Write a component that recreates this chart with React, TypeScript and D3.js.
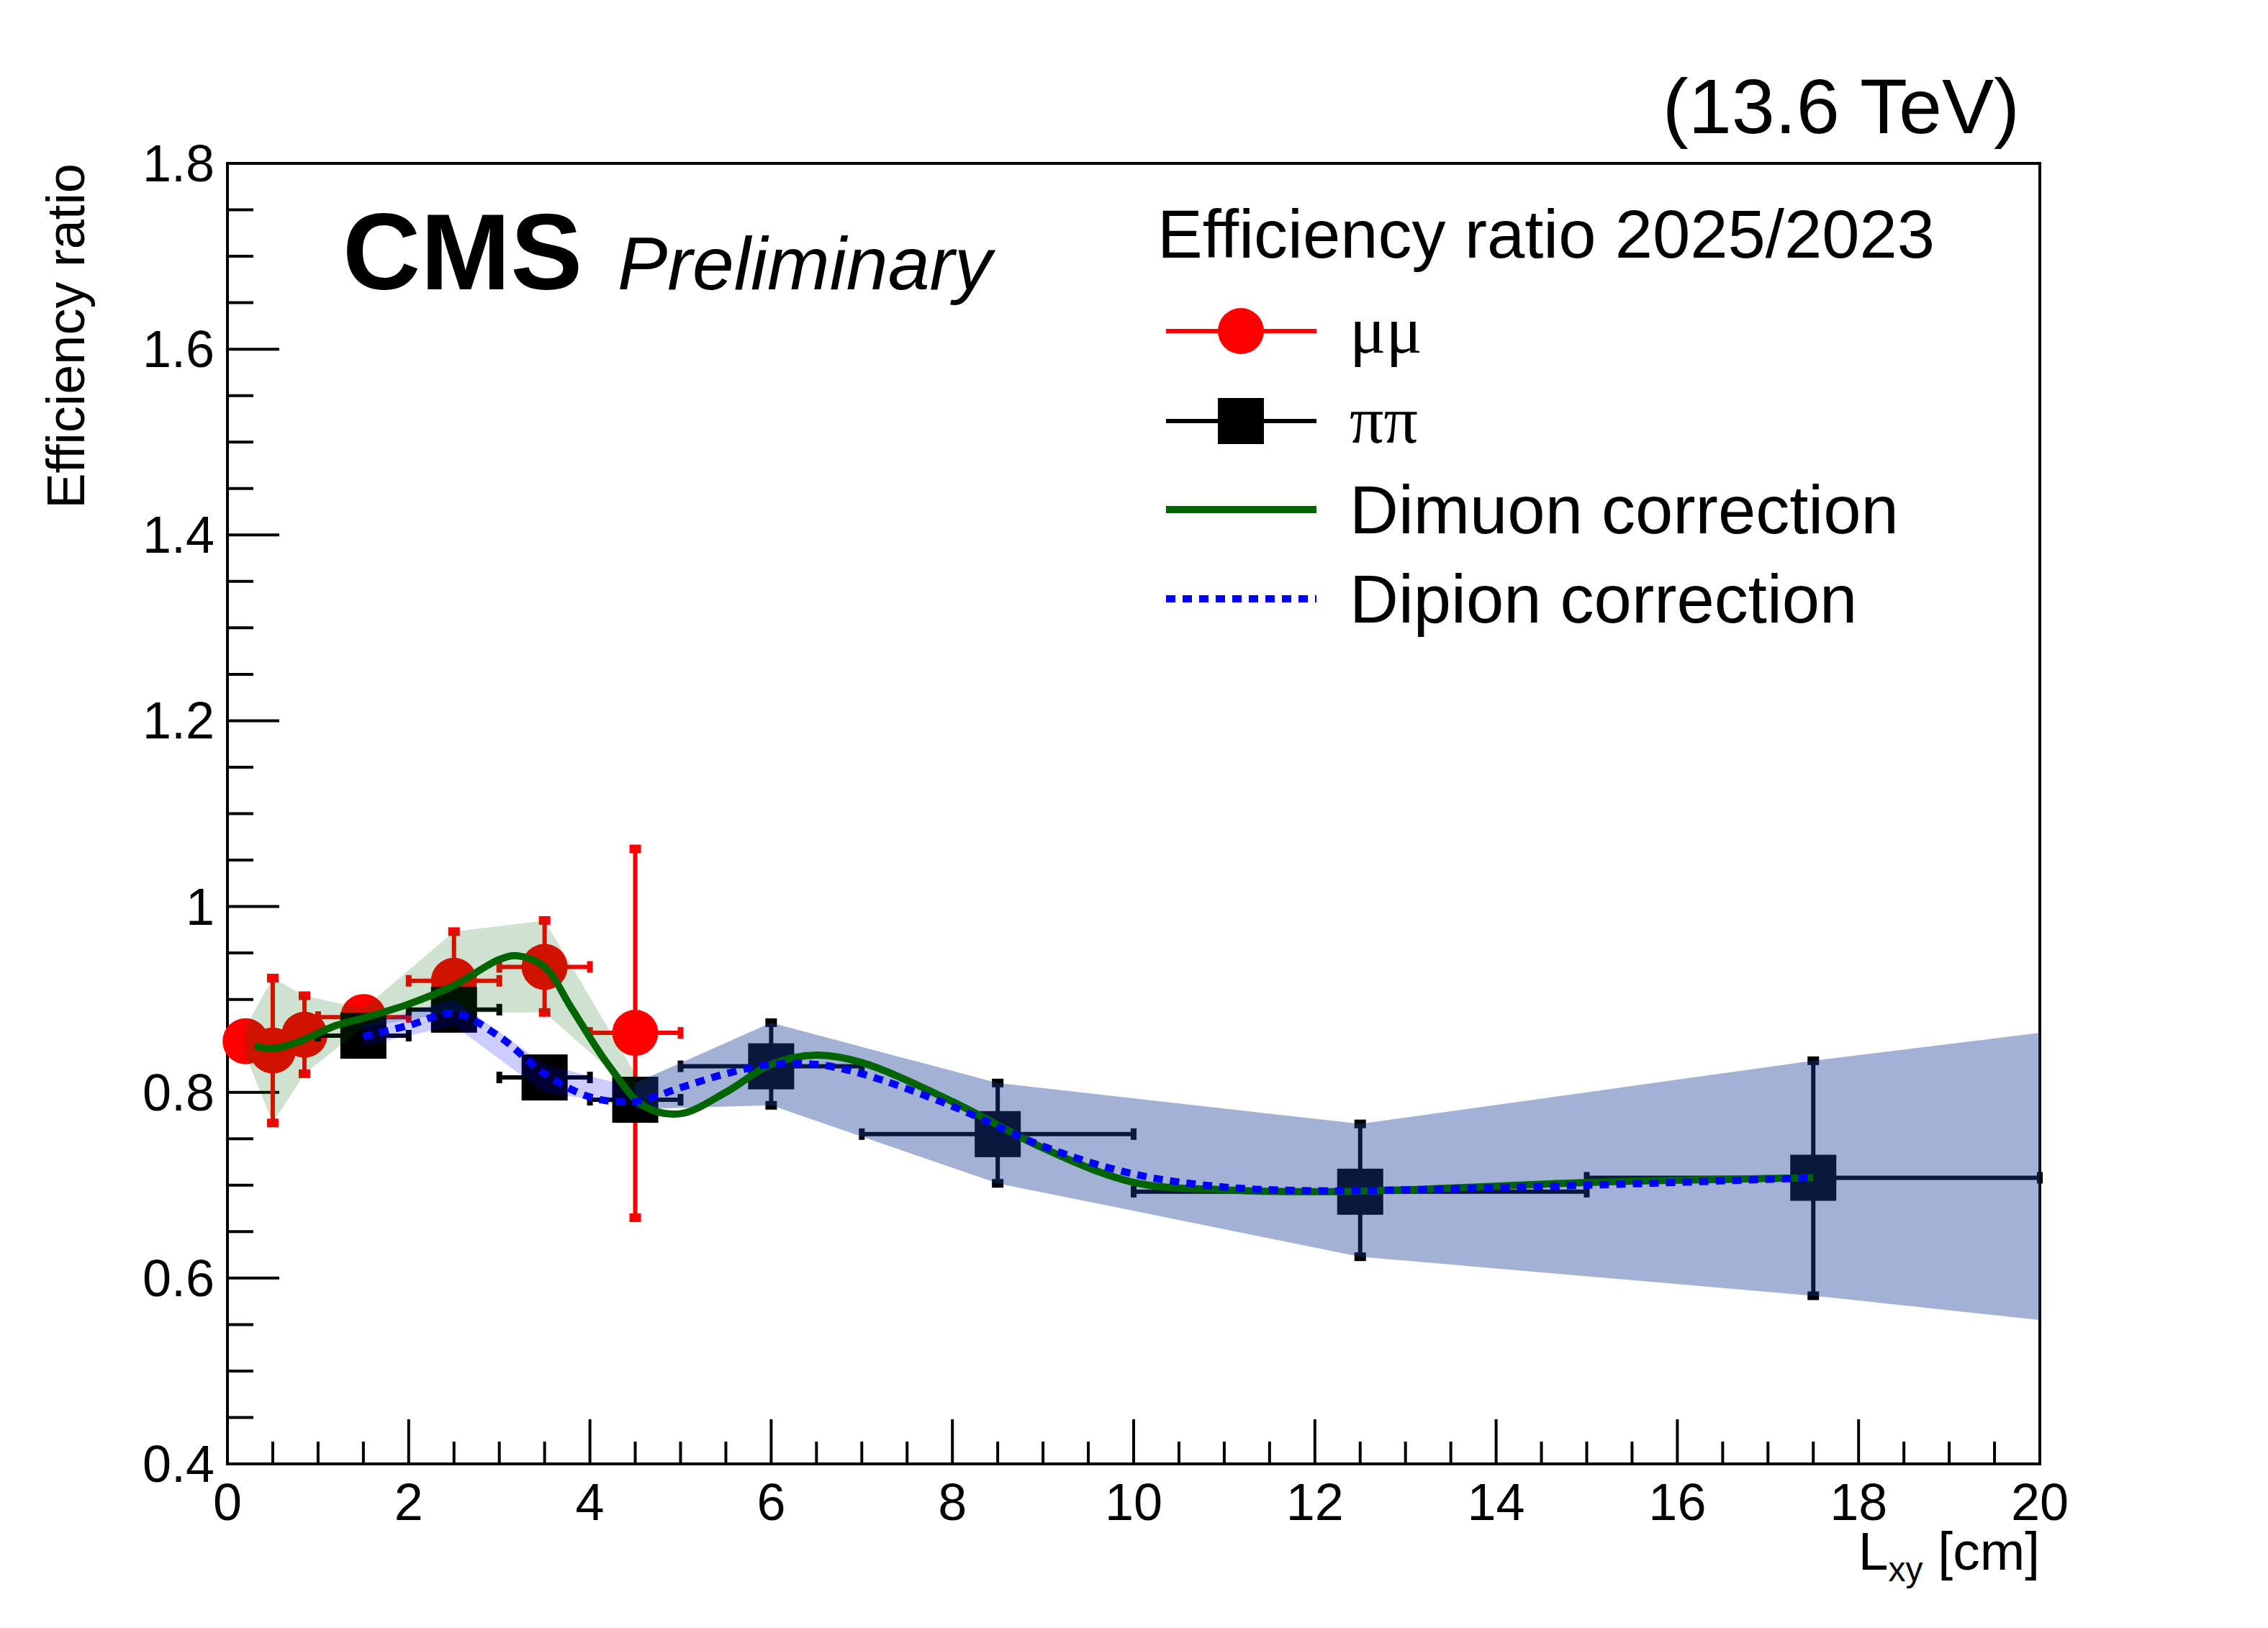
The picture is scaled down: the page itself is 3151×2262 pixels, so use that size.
import * as d3 from "d3";

// μμ data points
const muX = [0.2, 0.5, 0.85, 1.5, 2.5, 3.5, 4.5];
const muY = [0.855, 0.845, 0.862, 0.881, 0.92, 0.935, 0.864];
const muYLo = [0.855, 0.767, 0.82, 0.875, 0.886, 0.886, 0.665];
const muYHi = [0.855, 0.923, 0.904, 0.887, 0.973, 0.985, 1.062];
const muXLo = [0.2, 0.5, 0.85, 1, 2, 3, 4];
const muXHi = [0.2, 0.5, 0.85, 2, 3, 4, 5];

// ππ data points
const piX = [1.5, 2.5, 3.5, 4.5, 6, 8.5, 12.5, 17.5];
const piY = [0.861, 0.889, 0.816, 0.792, 0.828, 0.755, 0.693, 0.708];
const piYLo = [0.856, 0.884, 0.811, 0.787, 0.786, 0.702, 0.623, 0.581];
const piYHi = [0.866, 0.894, 0.821, 0.797, 0.875, 0.81, 0.766, 0.834];
const piXLo = [1, 2, 3, 4, 5, 7, 10, 15];
const piXHi = [2, 3, 4, 5, 7, 10, 15, 20];

// uncertainty bands
const greenBandX = [0.2, 0.5, 0.85, 1.5, 2.5, 3.5, 4.5];
const greenBandHi = [0.87, 0.923, 0.904, 0.89, 0.973, 0.985, 0.82];
const greenBandLo = [0.84, 0.767, 0.82, 0.87, 0.886, 0.886, 0.8];
const lavBandX = [1.5, 2.5, 3.5, 4.5];
const lavBandHi = [0.872, 0.9, 0.83, 0.805];
const lavBandLo = [0.85, 0.872, 0.8, 0.785];
const steelBandX = [4.5, 6, 8.5, 12.5, 17.5, 20];
const steelBandHi = [0.81, 0.875, 0.81, 0.766, 0.834, 0.864];
const steelBandLo = [0.782, 0.786, 0.702, 0.623, 0.581, 0.555];

// correction curves
const dimuonX = [0.3, 0.5, 0.8, 1.2, 1.5, 2, 2.5, 3, 3.2, 3.5, 3.8, 4.2, 4.6, 5, 5.5, 6, 6.5, 7, 8, 9, 10, 11, 12, 13, 15, 17.5];
const dimuonY = [0.85, 0.847, 0.855, 0.872, 0.88, 0.895, 0.915, 0.943, 0.947, 0.935, 0.89, 0.83, 0.785, 0.777, 0.8, 0.83, 0.84, 0.832, 0.79, 0.74, 0.703, 0.695, 0.693, 0.695, 0.703, 0.708];
const dipionX = [1.5, 2, 2.5, 3, 3.5, 4, 4.5, 5, 5.5, 6, 6.5, 7, 8, 9, 10, 11, 12, 13, 15, 17.5];
const dipionY = [0.86, 0.872, 0.885, 0.86, 0.82, 0.795, 0.79, 0.805, 0.82, 0.83, 0.83, 0.82, 0.785, 0.742, 0.712, 0.698, 0.694, 0.695, 0.7, 0.708];

const xTicks = [0, 2, 4, 6, 8, 10, 12, 14, 16, 18, 20];
const yTicks = [0.4, 0.6, 0.8, 1, 1.2, 1.4, 1.6, 1.8];

const W = 3151, H = 2262;
const L = 316, R = 2834, T = 227, B = 2034;
const font = "'Liberation Sans', Arial, sans-serif";

export default function App() {
  const x = d3.scaleLinear().domain([0, 20]).range([L, R]);
  const y = d3.scaleLinear().domain([0.4, 1.8]).range([B, T]);

  const band = (xs: number[], hi: number[], lo: number[]) =>
    d3.area<number>().x((_, i) => x(xs[i])).y0((_, i) => y(lo[i])).y1((_, i) => y(hi[i]))(xs) || "";
  const curve = (xs: number[], ys: number[]) =>
    d3.line<number>().x((_, i) => x(xs[i])).y((_, i) => y(ys[i])).curve(d3.curveCatmullRom)(xs) || "";

  const minorX = d3.range(0, 20.01, 0.5);
  const minorY = d3.range(0.4, 1.801, 0.05);

  const errBars = (xs: number[], ys: number[], xlo: number[], xhi: number[], ylo: number[], yhi: number[], color: string) =>
    xs.map((v, i) => (
      <g key={i} stroke={color} strokeWidth={6}>
        {xhi[i] > xlo[i] && <line x1={x(xlo[i])} x2={x(xhi[i])} y1={y(ys[i])} y2={y(ys[i])} />}
        {yhi[i] > ylo[i] && <line x1={x(v)} x2={x(v)} y1={y(ylo[i])} y2={y(yhi[i])} />}
        {yhi[i] - ylo[i] > 0.03 && (
          <>
            <line x1={x(v) - 8} x2={x(v) + 8} y1={y(ylo[i])} y2={y(ylo[i])} strokeWidth={12} />
            <line x1={x(v) - 8} x2={x(v) + 8} y1={y(yhi[i])} y2={y(yhi[i])} strokeWidth={12} />
          </>
        )}
        {xhi[i] > xlo[i] && (
          <>
            <line x1={x(xlo[i])} x2={x(xlo[i])} y1={y(ys[i]) - 8} y2={y(ys[i]) + 8} strokeWidth={8} />
            <line x1={x(xhi[i])} x2={x(xhi[i])} y1={y(ys[i]) - 8} y2={y(ys[i]) + 8} strokeWidth={8} />
          </>
        )}
      </g>
    ));

  const legY = [460, 585, 708, 832];
  const lx0 = 1620, lx1 = 1829, lm = 1724, lt = 1875;

  return (
    <svg width={W} height={H} style={{ position: "absolute", left: 0, top: 0, background: "white" }} fontFamily={font}>
      <rect x={L} y={T} width={R - L} height={B - T} fill="none" stroke="black" strokeWidth={4} />
      {/* ticks */}
      {minorX.map((v) => {
        const major = Math.abs(v % 2) < 1e-6;
        return <line key={"x" + v} x1={x(v)} x2={x(v)} y1={B} y2={B - (major ? 62 : 31)} stroke="black" strokeWidth={4} />;
      })}
      {minorY.map((v) => {
        const major = Math.abs(((v - 0.4) / 0.2) - Math.round((v - 0.4) / 0.2)) < 1e-6;
        return <line key={"y" + v} x1={L} x2={L + (major ? 72 : 36)} y1={y(v)} y2={y(v)} stroke="black" strokeWidth={4} />;
      })}
      {xTicks.map((v) => (
        <text key={v} x={x(v)} y={2112} fontSize={72} textAnchor="middle">{v}</text>
      ))}
      {yTicks.map((v) => (
        <text key={v} x={298} y={y(v) + 25} fontSize={72} textAnchor="end">{v}</text>
      ))}
      <text x={R} y={2181} fontSize={75} textAnchor="end">
        L<tspan fontSize={48} dy={16}>xy</tspan><tspan dy={-16}> [cm]</tspan>
      </text>
      <text transform={`translate(117,${T}) rotate(-90)`} fontSize={74} textAnchor="end">Efficiency ratio</text>

      {/* markers */}
      {errBars(muX, muY, muXLo, muXHi, muYLo, muYHi, "#ff0000")}
      {muX.map((v, i) => <circle key={i} cx={x(v)} cy={y(muY[i])} r={32} fill="#ff0000" />)}
      {errBars(piX, piY, piXLo, piXHi, piYLo, piYHi, "#000")}
      {piX.map((v, i) => <rect key={i} x={x(v) - 32} y={y(piY[i]) - 32} width={64} height={64} fill="#000" />)}

      {/* bands */}
      <path d={band(greenBandX, greenBandHi, greenBandLo)} fill="rgb(0,100,0)" fillOpacity={0.19} />
      <path d={band(lavBandX, lavBandHi, lavBandLo)} fill="rgb(0,0,255)" fillOpacity={0.2} />
      <path d={band(steelBandX, steelBandHi, steelBandLo)} fill="rgb(25,60,150)" fillOpacity={0.4} />

      {/* curves */}
      <path d={curve(dimuonX, dimuonY)} fill="none" stroke="#006400" strokeWidth={10} />
      <path d={curve(dipionX, dipionY)} fill="none" stroke="#0000ff" strokeWidth={10} strokeDasharray="13 10" />

      {/* labels */}
      <text x={2806} y={185} fontSize={108} textAnchor="end">(13.6 TeV)</text>
      <text x={476} y={402} fontSize={150} fontWeight="bold">CMS</text>
      <text x={858} y={402} fontSize={104} fontStyle="italic">Preliminary</text>

      {/* legend */}
      <text x={1608} y={358} fontSize={94}>Efficiency ratio 2025/2023</text>
      <line x1={lx0} x2={lx1} y1={legY[0]} y2={legY[0]} stroke="#ff0000" strokeWidth={6} />
      <circle cx={lm} cy={legY[0]} r={32} fill="#ff0000" />
      <line x1={lx0} x2={lx1} y1={legY[1]} y2={legY[1]} stroke="#000" strokeWidth={6} />
      <rect x={lm - 32} y={legY[1] - 32} width={64} height={64} fill="#000" />
      <line x1={lx0} x2={lx1} y1={legY[2]} y2={legY[2]} stroke="#006400" strokeWidth={10} />
      <line x1={lx0} x2={lx1} y1={legY[3]} y2={legY[3]} stroke="#0000ff" strokeWidth={10} strokeDasharray="13 10" />
      <text x={lt} y={legY[0] + 30} fontSize={94} fontFamily="'Liberation Serif', serif">μμ</text>
      <text x={lt} y={legY[1] + 30} fontSize={94} fontFamily="'Liberation Serif', serif">ππ</text>
      <text x={lt} y={legY[2] + 33} fontSize={94}>Dimuon correction</text>
      <text x={lt} y={legY[3] + 33} fontSize={94}>Dipion correction</text>
    </svg>
  );
}
